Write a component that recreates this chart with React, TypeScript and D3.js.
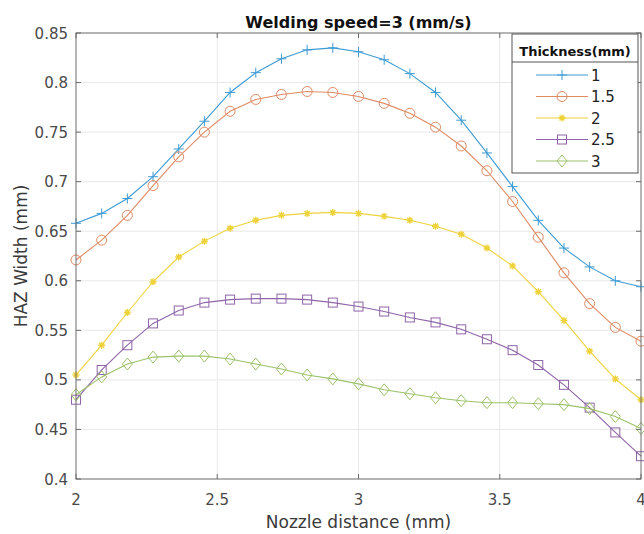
import React, { useEffect, useRef } from "react";
import * as d3 from "d3";

const xValues: number[] = d3.range(23).map((i) => 2 + (i * 2) / 22);

const seriesNames: string[] = ["1", "1.5", "2", "2.5", "3"];

const s1: number[] = [0.658, 0.668, 0.683, 0.705, 0.733, 0.761, 0.790, 0.810, 0.824, 0.833, 0.835, 0.831, 0.823, 0.809, 0.790, 0.762, 0.729, 0.695, 0.661, 0.633, 0.614, 0.600, 0.594];
const s2: number[] = [0.621, 0.641, 0.666, 0.696, 0.725, 0.750, 0.771, 0.783, 0.788, 0.791, 0.790, 0.786, 0.779, 0.769, 0.755, 0.736, 0.711, 0.680, 0.644, 0.608, 0.577, 0.553, 0.539];
const s3: number[] = [0.505, 0.535, 0.568, 0.599, 0.624, 0.640, 0.653, 0.661, 0.666, 0.668, 0.669, 0.668, 0.665, 0.661, 0.655, 0.647, 0.633, 0.615, 0.589, 0.560, 0.529, 0.501, 0.480];
const s4: number[] = [0.480, 0.510, 0.535, 0.557, 0.570, 0.578, 0.581, 0.582, 0.582, 0.581, 0.578, 0.574, 0.569, 0.563, 0.558, 0.551, 0.541, 0.530, 0.515, 0.495, 0.472, 0.447, 0.423];
const s5: number[] = [0.485, 0.503, 0.516, 0.523, 0.524, 0.524, 0.521, 0.516, 0.511, 0.505, 0.501, 0.496, 0.490, 0.486, 0.482, 0.479, 0.477, 0.477, 0.476, 0.475, 0.471, 0.463, 0.451];

const xTicks: number[] = [2, 2.5, 3, 3.5, 4];
const yTicks: number[] = [0.4, 0.45, 0.5, 0.55, 0.6, 0.65, 0.7, 0.75, 0.8, 0.85];

const colors: string[] = ["#3d9bd3", "#df8a63", "#eed23a", "#8f64a8", "#9cc26a"];
const markers: string[] = ["plus", "circle", "star", "square", "diamond"];

const W = 644;
const H = 534;
const M = { left: 76, right: 3, top: 33, bottom: 55 };

function drawMarker(g: any, type: string, x: number, y: number, color: string) {
  const s = 5;
  if (type === "plus") {
    g.append("path").attr("d", `M${x - s},${y}L${x + s},${y}M${x},${y - s}L${x},${y + s}`).attr("stroke", color).attr("stroke-width", 1).attr("fill", "none");
  } else if (type === "circle") {
    g.append("circle").attr("cx", x).attr("cy", y).attr("r", 5).attr("stroke", color).attr("fill", "none").attr("stroke-width", 1);
  } else if (type === "star") {
    const a = 3.5;
    const b = 2.5;
    g.append("path")
      .attr("d", `M${x - a},${y}L${x + a},${y}M${x},${y - a}L${x},${y + a}M${x - b},${y - b}L${x + b},${y + b}M${x - b},${y + b}L${x + b},${y - b}`)
      .attr("stroke", color).attr("stroke-width", 1.4).attr("fill", "none");
  } else if (type === "square") {
    g.append("rect").attr("x", x - 4.5).attr("y", y - 4.5).attr("width", 9).attr("height", 9).attr("stroke", color).attr("fill", "none").attr("stroke-width", 1);
  } else if (type === "diamond") {
    g.append("path").attr("d", `M${x},${y - 6}L${x + 5},${y}L${x},${y + 6}L${x - 5},${y}Z`).attr("stroke", color).attr("fill", "none").attr("stroke-width", 1);
  }
}

export default function App() {
  const ref = useRef<SVGSVGElement | null>(null);

  useEffect(() => {
    const svg = d3.select(ref.current);
    svg.selectAll("*").remove();
    const series = [s1, s2, s3, s4, s5];

    const x = d3.scaleLinear().domain([2, 4]).range([M.left, W - M.right]);
    const y = d3.scaleLinear().domain([0.4, 0.85]).range([H - M.bottom, M.top]);
    const font = "'DejaVu Sans', 'Liberation Sans', Arial, sans-serif";

    svg.append("rect").attr("width", W).attr("height", H).attr("fill", "#ffffff");

    // grid
    const grid = svg.append("g");
    xTicks.slice(1, -1).forEach((t) => {
      grid.append("line").attr("x1", x(t)).attr("x2", x(t)).attr("y1", y(0.4)).attr("y2", y(0.85)).attr("stroke", "#e8e8e8").attr("stroke-width", 1);
    });
    yTicks.slice(1, -1).forEach((t) => {
      grid.append("line").attr("x1", x(2)).attr("x2", x(4)).attr("y1", y(t)).attr("y2", y(t)).attr("stroke", "#e8e8e8").attr("stroke-width", 1);
    });

    // lines
    const line = d3.line<number>().x((_, i) => x(xValues[i])).y((d) => y(d));
    series.forEach((s, k) => {
      svg.append("path").attr("d", line(s) as string).attr("fill", "none").attr("stroke", colors[k]).attr("stroke-width", 1.1);
      const g = svg.append("g");
      s.forEach((v, i) => drawMarker(g, markers[k], x(xValues[i]), y(v), colors[k]));
    });

    // axes box
    const axisColor = "#6b6b6b";
    svg.append("rect").attr("x", x(2)).attr("y", y(0.85)).attr("width", x(4) - x(2)).attr("height", y(0.4) - y(0.85)).attr("fill", "none").attr("stroke", axisColor).attr("stroke-width", 1);

    // ticks
    const tl = 5;
    xTicks.forEach((t) => {
      svg.append("line").attr("x1", x(t)).attr("x2", x(t)).attr("y1", y(0.4)).attr("y2", y(0.4) - tl).attr("stroke", axisColor);
      svg.append("line").attr("x1", x(t)).attr("x2", x(t)).attr("y1", y(0.85)).attr("y2", y(0.85) + tl).attr("stroke", axisColor);
      svg.append("text").attr("x", x(t)).attr("y", y(0.4) + 26).attr("text-anchor", "middle").attr("font-family", font).attr("font-size", 15).attr("fill", "#4a4a4a").text(d3.format("")(t));
    });
    yTicks.forEach((t) => {
      svg.append("line").attr("x1", x(2)).attr("x2", x(2) + tl).attr("y1", y(t)).attr("y2", y(t)).attr("stroke", axisColor);
      svg.append("line").attr("x1", x(4)).attr("x2", x(4) - tl).attr("y1", y(t)).attr("y2", y(t)).attr("stroke", axisColor);
      svg.append("text").attr("x", x(2) - 8).attr("y", y(t) + 5.5).attr("text-anchor", "end").attr("font-family", font).attr("font-size", 15).attr("fill", "#4a4a4a").text(d3.format("")(t));
    });

    // title and labels
    svg.append("text").attr("x", (x(2) + x(4)) / 2).attr("y", 28).attr("text-anchor", "middle").attr("font-family", font).attr("font-size", 16).attr("font-weight", "bold").attr("fill", "#111").text("Welding speed=3 (mm/s)");
    svg.append("text").attr("x", (x(2) + x(4)) / 2).attr("y", 528).attr("text-anchor", "middle").attr("font-family", font).attr("font-size", 17).attr("fill", "#3a3a3a").text("Nozzle distance (mm)");
    svg.append("text").attr("transform", `translate(27,${(y(0.4) + y(0.85)) / 2}) rotate(-90)`).attr("text-anchor", "middle").attr("font-family", font).attr("font-size", 17).attr("fill", "#3a3a3a").text("HAZ Width (mm)");

    // legend
    const lx = 512, ly = 34, lw = 126, lh = 139;
    const lg = svg.append("g");
    lg.append("rect").attr("x", lx).attr("y", ly).attr("width", lw).attr("height", lh).attr("fill", "#ffffff").attr("stroke", "#555").attr("stroke-width", 1);
    lg.append("line").attr("x1", lx).attr("x2", lx + lw).attr("y1", 62).attr("y2", 62).attr("stroke", "#555");
    lg.append("text").attr("x", lx + lw / 2).attr("y", 56).attr("text-anchor", "middle").attr("font-family", font).attr("font-size", 13).attr("font-weight", "bold").attr("fill", "#111").text("Thickness(mm)");
    seriesNames.forEach((name, k) => {
      const yy = 75 + k * 21.5;
      lg.append("line").attr("x1", 536).attr("x2", 588).attr("y1", yy).attr("y2", yy).attr("stroke", colors[k]).attr("stroke-width", 1.1);
      drawMarker(lg, markers[k], 562, yy, colors[k]);
      lg.append("text").attr("x", 591).attr("y", yy + 5.5).attr("font-family", font).attr("font-size", 15).attr("fill", "#222").text(name);
    });
  }, []);

  return (
    <svg ref={ref} width={W} height={H} style={{ position: "absolute", left: 0, top: 0, display: "block" }} />
  );
}
